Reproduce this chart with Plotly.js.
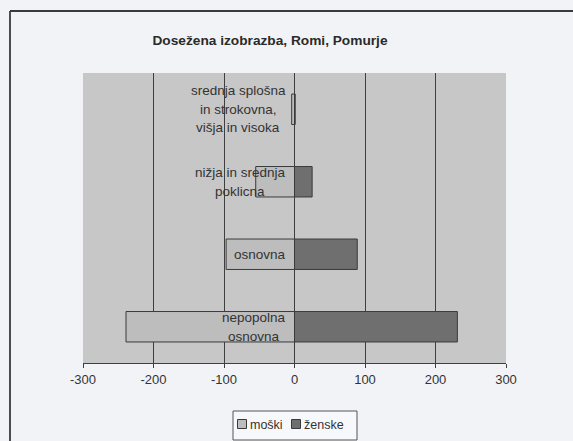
<!DOCTYPE html>
<html>
<head>
<meta charset="utf-8">
<script src="https://cdn.plot.ly/plotly-3.0.1.min.js"></script>
<style>html,body{margin:0;padding:0;background:#f2f3f7;overflow:hidden;}#chart{width:573px;height:441px;}</style>
</head>
<body>
<div id="chart"></div>
<script>
// Categories bottom to top; "\n" marks line breaks in the label
const categories = [
  "nepopolna\nosnovna",
  "osnovna",
  "nižja in srednja\npoklicna",
  "srednja splošna\nin strokovna,\nvišja in visoka"
];
const moski = [-239, -97, -55, -4];
const zenske = [231, 89, 25, 1];
const tickValues = [-300, -200, -100, 0, 100, 200, 300];
const tickLabels = ["-300", "-200", "-100", "0", "100", "200", "300"];
const seriesNames = ["moški", "ženske"];
const seriesColors = ["#bdbdbd", "#6f6f6f"];

const FONT = 'Liberation Sans, Arial, sans-serif';
const catKeys = categories.map((c, i) => "c" + i);

const traces = [
  {type: 'bar', orientation: 'h', name: seriesNames[0], y: catKeys, x: moski, width: 0.42,
   marker: {color: seriesColors[0], line: {color: '#3a3a3a', width: 1}}, hoverinfo: 'x', showlegend: false},
  {type: 'bar', orientation: 'h', name: seriesNames[1], y: catKeys, x: zenske, width: 0.42,
   marker: {color: seriesColors[1], line: {color: '#3a3a3a', width: 1}}, hoverinfo: 'x', showlegend: false}
];

const W = 573, H = 441, L = 83, R = 67, T = 73, B = 78;
const pw = W - L - R, ph = H - T - B;
const px = v => (v - L) / pw;
const py = v => (H - B - v) / ph;

// measure text for centered multi-line labels
const LABEL_SIZE = 13.5;
const cv = document.createElement('canvas').getContext('2d');
cv.font = LABEL_SIZE + 'px "Liberation Sans", Arial, sans-serif';
const annotations = [];
categories.forEach((lab, ci) => {
  const lines = lab.split('\n');
  const maxw = Math.max(...lines.map(l => cv.measureText(l).width));
  const n = lines.length;
  lines.forEach((ln, i) => {
    annotations.push({
      xref: 'x', yref: 'y', x: 0, y: catKeys[ci], text: ln, showarrow: false,
      xanchor: 'center', yanchor: 'middle',
      xshift: -(9 + maxw / 2), yshift: ((n - 1) / 2 - i) * 18.5,
      font: {family: FONT, size: LABEL_SIZE, color: '#333333'}
    });
  });
});

// custom compact legend (Excel style) built from the series arrays
const shapes = [
  // frame (top and left edges; the rest lies outside the picture)
  {type: 'line', xref: 'paper', yref: 'paper', x0: px(10), x1: px(600), y0: py(11), y1: py(11),
   line: {color: '#3a3a3a', width: 1.8}, layer: 'below'},
  {type: 'line', xref: 'paper', yref: 'paper', x0: px(10), x1: px(10), y0: py(11), y1: py(460),
   line: {color: '#3a3a3a', width: 1.8}, layer: 'below'},
  // legend box
  {type: 'rect', xref: 'paper', yref: 'paper', x0: px(233), x1: px(357), y0: py(440), y1: py(411),
   line: {color: '#555555', width: 1}, fillcolor: '#f7f8fb', layer: 'below'}
];
const legendX = [242, 296];
seriesNames.forEach((nm, i) => {
  shapes.push({type: 'rect', xref: 'paper', yref: 'paper',
    x0: px(legendX[i] - 4.5), x1: px(legendX[i] + 4.5), y0: py(428.5), y1: py(419.5),
    line: {color: '#3a3a3a', width: 1}, fillcolor: seriesColors[i]});
  annotations.push({xref: 'paper', yref: 'paper', x: px(legendX[i] + 6), y: py(424.5),
    xanchor: 'left', yanchor: 'middle', text: nm, showarrow: false,
    font: {family: FONT, size: 12.5, color: '#333333'}});
});

const layout = {
  width: W, height: H,
  margin: {l: L, r: R, t: T, b: B, pad: 0, autoexpand: false},
  paper_bgcolor: '#f2f3f7',
  plot_bgcolor: '#c7c7c7',
  barmode: 'relative',
  title: {text: 'Dosežena izobrazba, Romi, Pomurje', x: 270 / W, xanchor: 'center',
          y: 1 - 40 / H, yanchor: 'middle',
          font: {family: FONT, size: 13.7, color: '#2a2a2a', weight: 'bold'}},
  xaxis: {range: [-300, 300], tickvals: tickValues, ticktext: tickLabels,
          showgrid: true, gridcolor: '#3f3f3f', gridwidth: 1, zeroline: false,
          showline: true, linecolor: '#3f3f3f', linewidth: 1,
          ticks: 'outside', ticklen: 4, tickcolor: '#3f3f3f',
          tickfont: {family: FONT, size: 13, color: '#333333'}, fixedrange: true},
  yaxis: {showticklabels: false, showgrid: false, zeroline: false, showline: false,
          ticks: '', categoryorder: 'array', categoryarray: catKeys, fixedrange: true},
  showlegend: false,
  annotations: annotations,
  shapes: shapes
};

Plotly.newPlot('chart', traces, layout, {displayModeBar: false, staticPlot: true});
</script>
</body>
</html>
